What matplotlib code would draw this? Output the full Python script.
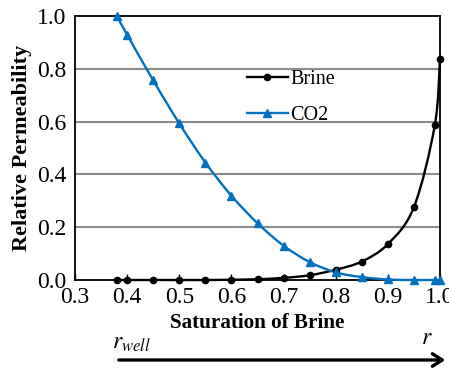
import numpy as np
import matplotlib
matplotlib.use('Agg')
import matplotlib.pyplot as plt
from matplotlib.path import Path
from matplotlib.patches import PathPatch, FancyArrowPatch

plt.rcParams['font.family'] = ['Liberation Serif', 'DejaVu Serif']

# Saturation of brine and relative permeabilities
sat = [0.38, 0.40, 0.45, 0.50, 0.55, 0.60, 0.65, 0.70, 0.75, 0.80, 0.85, 0.90, 0.95, 0.99, 1.00]
brine = [0.0, 0.0, 0.0, 0.0, 0.0, 0.001, 0.003, 0.008, 0.018, 0.039, 0.070, 0.136, 0.276, 0.586, 0.838]
co2 = [1.0, 0.929, 0.756, 0.593, 0.445, 0.319, 0.215, 0.130, 0.068, 0.029, 0.011, 0.002, 0.0, 0.0, 0.0]

xticks = [0.3, 0.4, 0.5, 0.6, 0.7, 0.8, 0.9, 1.0]
yticks = [0.0, 0.2, 0.4, 0.6, 0.8, 1.0]


def smooth_path(ax, x, y):
    # Excel-like smoothed line: cubic Bezier through the points, built in display space
    pts = ax.transData.transform(np.column_stack([x, y]))
    n = len(pts)
    verts = [pts[0]]
    codes = [Path.MOVETO]
    for i in range(n - 1):
        p0 = pts[max(i - 1, 0)]
        p1 = pts[i]
        p2 = pts[i + 1]
        p3 = pts[min(i + 2, n - 1)]
        c1 = p1 + (p2 - p0) / 6.0
        c2 = p2 - (p3 - p1) / 6.0
        verts += [c1, c2, p2]
        codes += [Path.CURVE4] * 3
    return Path(verts, codes)


fig = plt.figure(figsize=(4.49, 3.72), dpi=100)
ax = fig.add_axes([75/449, 1-280/372, 365/449, 264/372])

ax.set_xlim(0.3, 1.0)
ax.set_ylim(0.0, 1.0)

for y in yticks[1:-1]:
    ax.axhline(y, color='#8c8c8c', lw=1.5, zorder=0)

for vals, col in [(brine, 'black'), (co2, '#0070C0')]:
    ax.add_patch(PathPatch(smooth_path(ax, sat, vals), transform=None, facecolor='none',
                           edgecolor=col, lw=1.7, zorder=3, clip_on=False))

ax.plot(sat, brine, color='black', lw=0, marker='o', markersize=4.5, clip_on=False, zorder=4)
ax.plot(sat, co2, color='#0070C0', lw=0, marker='^', markersize=6, clip_on=False, zorder=4)
# legend proxies
ax.plot([], [], color='black', lw=1.7, marker='o', markersize=4.5, label='Brine')
ax.plot([], [], color='#0070C0', lw=1.7, marker='^', markersize=6, label='CO2')

ax.set_xticks(xticks)
ax.set_xticklabels(['%.1f' % t for t in xticks])
ax.set_yticks(yticks)
ax.set_yticklabels(['%.1f' % t for t in yticks])
ax.tick_params(axis='x', direction='in', length=4, width=1, labelsize=17, pad=5)
ax.tick_params(axis='y', length=0, labelsize=17, pad=6)
for s in ax.spines.values():
    s.set_linewidth(1.3)

ax.set_xlabel('Saturation of Brine', fontsize=15.2, fontweight='bold', labelpad=4)
ax.set_ylabel('Relative Permeability', fontsize=16, fontweight='bold', labelpad=4)

ax.legend(loc='upper left', bbox_to_anchor=(0.45, 0.826), frameon=False, fontsize=14.5,
          handlelength=2.0, handletextpad=0.15, labelspacing=0.85, borderaxespad=0)

# radial direction arrow below the axis
fig.text(112/449, 1-344/372, r'$r_{well}$', fontsize=17, ha='left', va='center',
         math_fontfamily='stix')
fig.text(427/449, 1-339/372, r'$r$', fontsize=17, ha='center', va='center',
         math_fontfamily='stix')
fig.patches.append(FancyArrowPatch(
    (116/449, 1-360/372), (448/449, 1-360/372), transform=fig.transFigure,
    arrowstyle='->,head_length=7,head_width=4.5', lw=2.4, color='black', mutation_scale=1))

fig.savefig('out.png', dpi=100)
